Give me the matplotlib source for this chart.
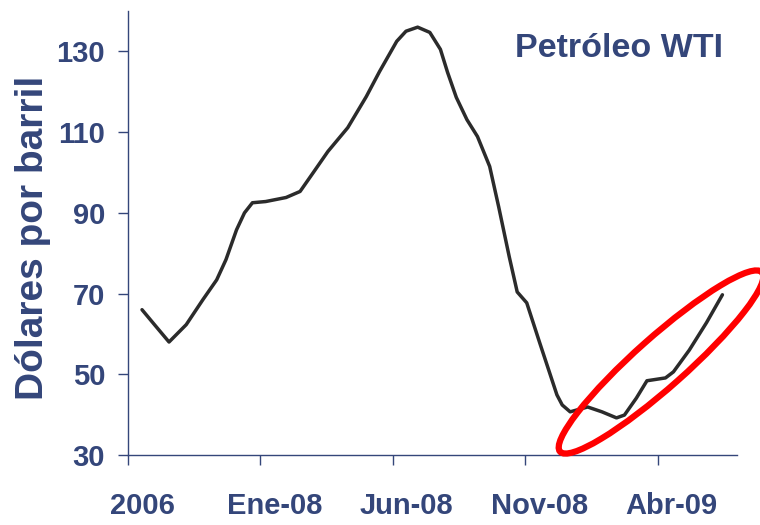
import matplotlib.pyplot as plt
from matplotlib.patches import Ellipse
from matplotlib.transforms import ScaledTranslation

# month index (0 = first tick) and WTI price
months = [0.53, 1.0, 1.55, 2.2, 2.83, 3.35, 3.7, 4.1, 4.4, 4.7, 5.2, 5.97, 6.5,
          7.0, 7.55, 8.3, 9.0, 9.5, 10.15, 10.5, 10.94, 11.4, 11.8, 12.07,
          12.4, 12.8, 13.2, 13.66, 14.0, 14.4, 14.7, 15.06, 15.55, 16.2, 16.4,
          16.7, 17.36, 17.9, 18.45, 18.75, 19.2, 19.6, 20.3, 20.6, 21.2,
          21.85, 22.45]
prices = [66, 62.3, 58, 62.3, 68.5, 73.4, 78.4, 85.8, 90, 92.5, 92.8, 93.8, 95.3,
          100, 105.2, 111.1, 118.8, 125, 132.5, 135, 136, 134.7, 130.5, 124.8,
          118.6, 113.1, 108.9, 101.5, 91.5, 79.1, 70.4, 67.7, 57.8, 44.9, 42.4,
          40.7, 41.9, 40.7, 39.2, 39.9, 44.1, 48.4, 49.1, 50.6, 56,
          62.8, 69.7]

tick_pos = [0, 5, 10, 15, 20]
tick_labels = ['2006', 'Ene-08', 'Jun-08', 'Nov-08', 'Abr-09']
yticks = [30, 50, 70, 90, 110, 130]

navy = '#34467a'
plt.rcParams['font.family'] = ['Liberation Sans', 'DejaVu Sans']
plt.rcParams['font.weight'] = 'bold'

fig = plt.figure(figsize=(7.6, 5.25), dpi=100)
ax = fig.add_axes([0.1684, 0.1333, 0.8013, 0.8457])

ax.plot(months, prices, color='#2b2b2b', lw=2.5, solid_capstyle='round',
        solid_joinstyle='round')

ax.set_xlim(0, 23)
ax.set_ylim(30, 140)
ax.set_xticks(tick_pos)
ax.set_xticklabels(tick_labels)
ax.set_yticks(yticks)

for s in ['top', 'right']:
    ax.spines[s].set_visible(False)
for s in ['left', 'bottom']:
    ax.spines[s].set_color(navy)
    ax.spines[s].set_linewidth(1.0)

ax.tick_params(axis='both', colors=navy, width=1.0, length=7.5,
               labelsize=21)
ax.tick_params(axis='x', pad=19)
ax.tick_params(axis='y', pad=9)
offset = ScaledTranslation(14 / 100, 0, fig.dpi_scale_trans)
for lab in ax.get_xticklabels():
    lab.set_transform(lab.get_transform() + offset)

ax.set_ylabel('Dólares por barril', fontsize=28, color=navy, fontweight='bold')
ax.yaxis.set_label_coords(-0.126, 0.49)

fig.text(515 / 760, 1 - 57 / 525, 'Petróleo WTI', fontsize=24.5, color=navy,
         fontweight='bold', ha='left', va='baseline')

# red highlight ellipse (display pixels)
ell = Ellipse((661, 525 - 362), 270, 50, angle=41.6, transform=None,
              fill=False, edgecolor='#ff0000', lw=4.5, clip_on=False)
fig.patches.append(ell)

fig.savefig('out.png', dpi=100)
